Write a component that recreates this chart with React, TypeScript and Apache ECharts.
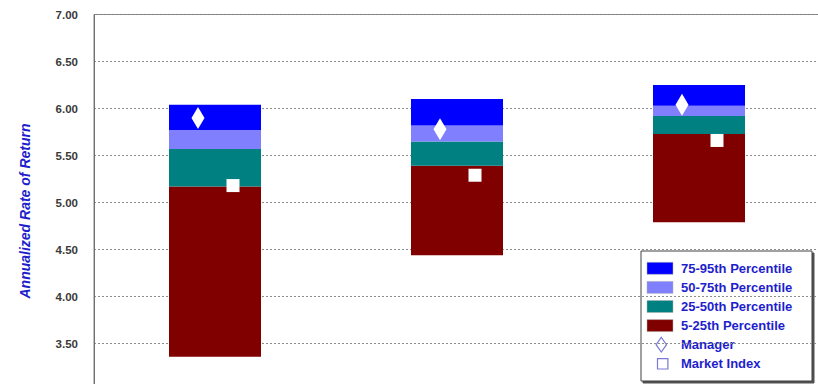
import React, { useEffect, useRef } from "react";
import * as echarts from "echarts";

// Percentile bands and markers for each period
const categories = ["Period 1", "Period 2", "Period 3"];
const p5 = [3.36, 4.44, 4.79];
const p25 = [5.17, 5.39, 5.73];
const p50 = [5.57, 5.65, 5.92];
const p75 = [5.77, 5.82, 6.03];
const p95 = [6.04, 6.1, 6.25];
const manager = [5.9, 5.78, 6.04];
const marketIndex = [5.18, 5.29, 5.66];

const yMin = 3.0;
const yMax = 7.0;
const yStep = 0.5;

const bandColors = {
  p75_95: "#0000ff",
  p50_75: "#8080ff",
  p25_50: "#008080",
  p5_25: "#800000",
};

const legendEntries = [
  { label: "75-95th Percentile", kind: "swatch", color: bandColors.p75_95 },
  { label: "50-75th Percentile", kind: "swatch", color: bandColors.p50_75 },
  { label: "25-50th Percentile", kind: "swatch", color: bandColors.p25_50 },
  { label: "5-25th Percentile", kind: "swatch", color: bandColors.p5_25 },
  { label: "Manager", kind: "diamond", color: "#ffffff" },
  { label: "Market Index", kind: "square", color: "#ffffff" },
];

const FONT = "Arial, 'Liberation Sans', Helvetica, sans-serif";
const TEXT_BLUE = "#1e1ecc";

const diff = (a: number[], b: number[]) => a.map((v, i) => +(v - b[i]).toFixed(4));

function buildLegend() {
  const boxX = 641;
  const boxY = 251;
  const boxW = 171;
  const boxH = 130;
  const firstRow = 268.3;
  const pitch = 19.1;
  const children: any[] = [
    {
      type: "rect",
      shape: { x: boxX, y: boxY, width: boxW, height: boxH },
      style: {
        fill: "#ffffff",
        stroke: "#404040",
        lineWidth: 1,
        shadowColor: "rgba(60,60,60,0.9)",
        shadowOffsetX: 2,
        shadowOffsetY: 2,
        shadowBlur: 0,
      },
    },
  ];
  legendEntries.forEach((e, i) => {
    const cy = firstRow + i * pitch;
    if (e.kind === "swatch") {
      children.push({
        type: "rect",
        shape: { x: 647, y: cy - 6, width: 26, height: 12 },
        style: { fill: e.color, stroke: "#b0b0b0", lineWidth: 0.5 },
      });
    } else if (e.kind === "diamond") {
      children.push({
        type: "polygon",
        shape: {
          points: [
            [661.3, cy - 7.3],
            [666.5, cy],
            [661.3, cy + 7.3],
            [656.1, cy],
          ],
        },
        style: { fill: e.color, stroke: "#7a7ad6", lineWidth: 1.2 },
      });
    } else {
      children.push({
        type: "rect",
        shape: { x: 657.5, y: cy - 5.2, width: 10.4, height: 10.4 },
        style: { fill: e.color, stroke: "#7a7ad6", lineWidth: 1.2 },
      });
    }
    children.push({
      type: "text",
      x: 681,
      y: cy,
      style: {
        text: e.label,
        fill: TEXT_BLUE,
        font: `bold 13px ${FONT}`,
        verticalAlign: "middle",
        align: "left",
      },
    });
  });
  return { type: "group", children, z: 100 };
}

export default function App() {
  const ref = useRef<HTMLDivElement>(null);

  useEffect(() => {
    if (!ref.current) return;
    const chart = echarts.init(ref.current, undefined, { renderer: "svg" });

    const barCommon = {
      type: "bar" as const,
      stack: "range",
      barWidth: 92,
      barGap: "0%",
    };

    chart.setOption({
      animation: false,
      backgroundColor: "#ffffff",
      textStyle: { fontFamily: FONT },
      grid: {
        left: 94,
        top: 14.5,
        width: 726,
        height: 376,
        show: true,
        borderColor: "#808080",
        borderWidth: 1,
        backgroundColor: "transparent",
      },
      xAxis: {
        type: "category",
        data: categories,
        axisLine: { show: false },
        axisTick: { show: false },
        axisLabel: { show: false },
        splitLine: { show: false },
      },
      yAxis: {
        type: "value",
        min: yMin,
        max: yMax,
        interval: yStep,
        name: "Annualized Rate of Return",
        nameLocation: "middle",
        nameGap: 62,
        nameRotate: 90,
        nameTextStyle: {
          color: TEXT_BLUE,
          fontWeight: "bold",
          fontStyle: "italic",
          fontSize: 14,
          fontFamily: FONT,
          padding: [0, 17, 0, 0],
        },
        axisLine: { show: true, lineStyle: { color: "#707070", width: 1 } },
        axisTick: { show: false },
        axisLabel: {
          color: "#3a3a3a",
          fontWeight: "bold",
          fontSize: 11.5,
          fontFamily: FONT,
          margin: 16,
          formatter: (v: number) => v.toFixed(2),
        },
        splitLine: {
          show: true,
          lineStyle: { color: "#8c8c8c", type: [2, 2], width: 1 },
        },
      },
      series: [
        {
          ...barCommon,
          name: "base",
          data: p5,
          itemStyle: { color: "transparent" },
          silent: true,
        },
        {
          ...barCommon,
          name: "5-25th Percentile",
          data: diff(p25, p5),
          itemStyle: { color: bandColors.p5_25 },
        },
        {
          ...barCommon,
          name: "25-50th Percentile",
          data: diff(p50, p25),
          itemStyle: { color: bandColors.p25_50 },
        },
        {
          ...barCommon,
          name: "50-75th Percentile",
          data: diff(p75, p50),
          itemStyle: { color: bandColors.p50_75 },
        },
        {
          ...barCommon,
          name: "75-95th Percentile",
          data: diff(p95, p75),
          itemStyle: { color: bandColors.p75_95 },
        },
        {
          type: "scatter",
          name: "Manager",
          data: manager,
          symbol: "diamond",
          symbolSize: [13, 22],
          symbolOffset: [-17, 0],
          itemStyle: { color: "#ffffff", opacity: 1 },
          z: 10,
        },
        {
          type: "scatter",
          name: "Market Index",
          data: marketIndex,
          symbol: "rect",
          symbolSize: 13,
          symbolOffset: [18, 0],
          itemStyle: { color: "#ffffff", opacity: 1 },
          z: 10,
        },
      ],
      graphic: [buildLegend()],
    });

    return () => chart.dispose();
  }, []);

  return (
    <div
      style={{
        position: "fixed",
        left: 0,
        top: 0,
        width: 818,
        height: 384,
        overflow: "hidden",
        background: "#ffffff",
      }}
    >
      <div ref={ref} style={{ width: 830, height: 420 }} />
    </div>
  );
}
